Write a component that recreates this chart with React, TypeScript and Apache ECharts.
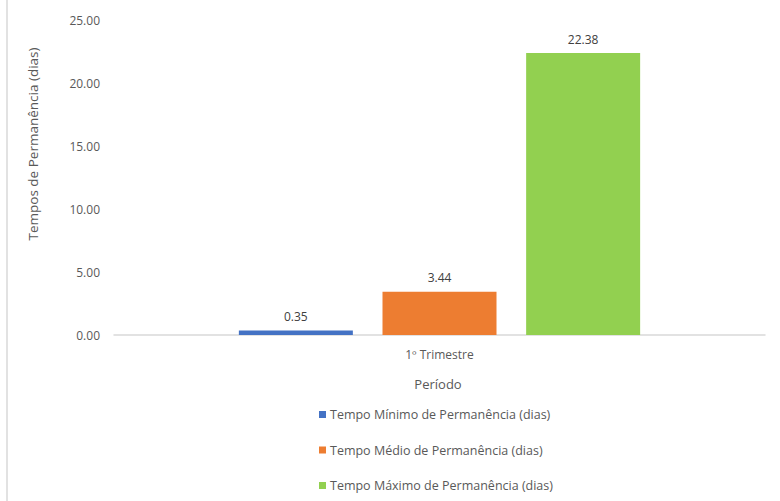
import React, { useEffect, useRef } from "react";
import * as echarts from "echarts";

const categories = ["1º Trimestre"];
const seriesNames = [
  "Tempo Mínimo de Permanência (dias)",
  "Tempo Médio de Permanência (dias)",
  "Tempo Máximo de Permanência (dias)",
];
const minValues = [0.35];
const avgValues = [3.44];
const maxValues = [22.38];
const colors = ["#4472C4", "#ED7D31", "#92D050"];

const FONT = "'Open Sans', sans-serif";

export default function App() {
  const ref = useRef<HTMLDivElement>(null);
  useEffect(() => {
    if (!ref.current) return;
    const chart = echarts.init(ref.current, null, { renderer: "svg" });
    const dataSets = [minValues, avgValues, maxValues];
    chart.setOption({
      animation: false,
      backgroundColor: "#ffffff",
      textStyle: { fontFamily: FONT },
      grid: { left: 114, right: 15, top: 20, bottom: 166, containLabel: false },
      xAxis: {
        type: "category",
        data: categories,
        axisTick: { show: false },
        axisLine: { lineStyle: { color: "#d9d9d9", width: 1.5 } },
        axisLabel: { color: "#595959", fontSize: 12, margin: 13, fontFamily: FONT },
      },
      yAxis: {
        type: "value",
        min: 0,
        max: 25,
        interval: 5,
        axisLine: { show: false },
        axisTick: { show: false },
        splitLine: { show: false },
        axisLabel: {
          color: "#595959",
          fontSize: 12,
          margin: 14,
          fontFamily: FONT,
          formatter: (v: number) => v.toFixed(2),
        },
      },
      legend: {
        orient: "vertical",
        left: 314,
        top: 403,
        itemWidth: 7,
        itemHeight: 7,
        itemGap: 22.5,
        icon: "rect",
        data: seriesNames,
        textStyle: { color: "#595959", fontSize: 12.5, fontFamily: FONT, padding: [0, 0, 0, -1] },
      },
      graphic: [
        {
          type: "line",
          shape: { x1: 7, y1: 0, x2: 7, y2: 501 },
          style: { stroke: "#d9d9d9", lineWidth: 1.5 },
        },
        {
          type: "text",
          x: 33,
          y: 144,
          rotation: Math.PI / 2,
          style: {
            text: "Tempos de Permanência (dias)",
            fill: "#595959",
            font: `13.5px ${FONT}`,
            align: "center",
            verticalAlign: "middle",
          },
        },
        {
          type: "text",
          x: 438,
          y: 384,
          style: {
            text: "Período",
            fill: "#595959",
            font: `13px ${FONT}`,
            align: "center",
            verticalAlign: "middle",
          },
        },
      ],
      series: dataSets.map((d, i) => ({
        name: seriesNames[i],
        type: "bar",
        data: d,
        barWidth: 114,
        barGap: "26%",
        itemStyle: { color: colors[i] },
        label: {
          show: true,
          position: "top",
          distance: 8,
          color: "#404040",
          fontSize: 12,
          fontFamily: FONT,
          formatter: (p: any) => Number(p.value).toFixed(2),
        },
      })),
    });
    return () => chart.dispose();
  }, []);
  return (
    <div
      ref={ref}
      style={{ position: "fixed", left: 0, top: 0, width: 780, height: 501 }}
    />
  );
}
